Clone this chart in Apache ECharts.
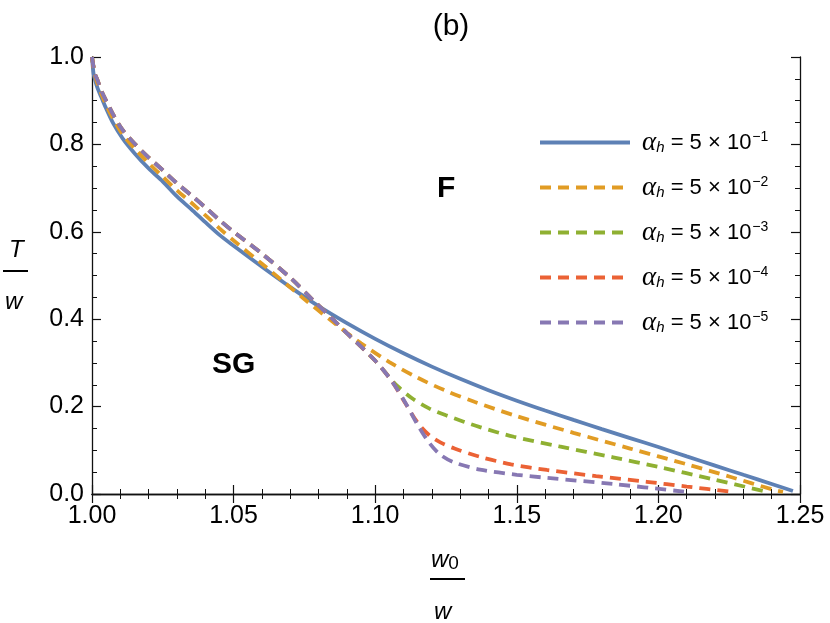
<!DOCTYPE html>
<html>
<head>
<meta charset="utf-8">
<script src="https://cdn.jsdelivr.net/npm/echarts@6/dist/echarts.min.js"></script>
<style>
  html, body { margin: 0; padding: 0; background: #fff; }
  #chart { width: 830px; height: 623px; }
</style>
</head>
<body>
<div id="chart"></div>
<script>
// values (x = w0/w, y = T/w)
var xBlue = [1.000, 1.0005, 1.001, 1.002, 1.0035, 1.005, 1.0075, 1.0108, 1.015, 1.02, 1.025, 1.03, 1.035, 1.04, 1.045, 1.05, 1.06, 1.07, 1.08, 1.09, 1.10, 1.11, 1.12, 1.13, 1.14, 1.15, 1.16, 1.17, 1.18, 1.19, 1.20, 1.21, 1.22, 1.23, 1.24, 1.2475];
var yBlue = [1.0, 0.964, 0.949, 0.928, 0.905, 0.882, 0.848, 0.814, 0.78, 0.745, 0.715, 0.681, 0.652, 0.622, 0.593, 0.568, 0.52, 0.4735, 0.43, 0.391, 0.355, 0.322, 0.2915, 0.2635, 0.2375, 0.2135, 0.191, 0.1695, 0.1485, 0.128, 0.1075, 0.086, 0.065, 0.044, 0.023, 0.007];

var xOrange = [1.000, 1.001, 1.002, 1.0035, 1.005, 1.0075, 1.0108, 1.015, 1.02, 1.025, 1.03, 1.035, 1.04, 1.045, 1.05, 1.06, 1.0746, 1.085, 1.095, 1.105, 1.115, 1.125, 1.135, 1.15, 1.17, 1.19, 1.21, 1.225, 1.2405, 1.244];
var yOrange = [1.0, 0.959, 0.938, 0.9125, 0.89, 0.858, 0.823, 0.791, 0.757, 0.726, 0.695, 0.667, 0.638, 0.608, 0.58, 0.527, 0.448, 0.394, 0.345, 0.302, 0.266, 0.236, 0.211, 0.178, 0.14, 0.104, 0.068, 0.04, 0.01, 0.005];

var xGreen = [1.000, 1.001, 1.002, 1.0035, 1.005, 1.0075, 1.0108, 1.015, 1.02, 1.025, 1.03, 1.035, 1.04, 1.045, 1.05, 1.06, 1.07, 1.078, 1.085, 1.09, 1.10, 1.105, 1.108, 1.113, 1.119, 1.125, 1.137, 1.149, 1.165, 1.184, 1.20, 1.219, 1.2376];
var yGreen = [1.0, 0.962, 0.946, 0.92, 0.9, 0.868, 0.833, 0.802, 0.77, 0.741, 0.711, 0.684, 0.656, 0.627, 0.6, 0.55, 0.495, 0.444, 0.4, 0.368, 0.305, 0.267, 0.246, 0.219, 0.196, 0.18, 0.153, 0.131, 0.109, 0.084, 0.062, 0.034, 0.006];

var xRed = [1.000, 1.001, 1.002, 1.0035, 1.005, 1.0075, 1.0108, 1.015, 1.02, 1.025, 1.03, 1.035, 1.04, 1.045, 1.05, 1.06, 1.07, 1.078, 1.085, 1.09, 1.10, 1.106, 1.111, 1.115, 1.119, 1.123, 1.128, 1.137, 1.148, 1.1606, 1.178, 1.1959, 1.21, 1.2263];
var yRed = [1.0, 0.962, 0.946, 0.92, 0.9, 0.868, 0.833, 0.802, 0.77, 0.741, 0.711, 0.684, 0.656, 0.627, 0.6, 0.55, 0.495, 0.444, 0.4, 0.368, 0.305, 0.257, 0.204, 0.163, 0.135, 0.118, 0.104, 0.085, 0.068, 0.055, 0.041, 0.028, 0.017, 0.005];

var xPurple = [1.000, 1.001, 1.002, 1.0035, 1.005, 1.0075, 1.0108, 1.015, 1.02, 1.025, 1.03, 1.035, 1.04, 1.045, 1.05, 1.06, 1.07, 1.078, 1.085, 1.09, 1.10, 1.106, 1.111, 1.115, 1.119, 1.123, 1.128, 1.137, 1.15, 1.1606, 1.184, 1.2094];
var yPurple = [1.0, 0.962, 0.946, 0.92, 0.9, 0.868, 0.833, 0.802, 0.77, 0.741, 0.711, 0.684, 0.656, 0.627, 0.6, 0.55, 0.495, 0.444, 0.4, 0.368, 0.305, 0.257, 0.205, 0.158, 0.118, 0.09, 0.072, 0.056, 0.044, 0.037, 0.023, 0.005];

var exponents = ['1', '2', '3', '4', '5'];
var colors = ['#5E81B5', '#E19C24', '#8FB032', '#EB6235', '#8778B3'];
var xTicks = [1.00, 1.05, 1.10, 1.15, 1.20, 1.25];
var yTicks = [0.0, 0.2, 0.4, 0.6, 0.8, 1.0];

var FONT = 'Liberation Sans';

function pairs(xs, ys) {
	var out = [];
	for (var i = 0; i < xs.length; i++) out.push([xs[i], ys[i]]);
	return out;
}

var curves = [
	pairs(xBlue, yBlue),
	pairs(xOrange, yOrange),
	pairs(xGreen, yGreen),
	pairs(xRed, yRed),
	pairs(xPurple, yPurple)
];

var myChart = echarts.init(document.getElementById('chart'));

var series = curves.map(function (d, i) {
	return {
		name: 'a' + exponents[i],
		type: 'line',
		data: d,
		showSymbol: false,
		symbol: 'none',
		smooth: 0.3,
		animation: false,
		lineStyle: {
			color: colors[i],
			width: 3.8,
			type: i === 0 ? 'solid' : [11, 7]
		},
		itemStyle: { color: colors[i] }
	};
});

function axisBase(extra) {
	var a = {
		type: 'value',
		axisLine: { show: true, lineStyle: { color: '#111', width: 1.3 } },
		axisTick: { show: true, inside: true, length: 9, lineStyle: { color: '#111', width: 1.2 } },
		splitLine: { show: false }
	};
	for (var k in extra) a[k] = extra[k];
	return a;
}

var option = {
	backgroundColor: '#fff',
	title: {
		text: '(b)',
		left: 446,
		textAlign: 'center',
		top: 7,
		textStyle: { fontFamily: FONT, fontSize: 30, fontWeight: 'normal', color: '#000' }
	},
	grid: { left: 92, right: 30, top: 57, bottom: 129, containLabel: false },
	legend: {
		orient: 'vertical',
		left: 533,
		top: 124,
		itemWidth: 90,
		itemHeight: 14,
		itemGap: 18,
		itemStyle: { opacity: 0 },
		lineStyle: { width: 4 },
		data: series.map(function (s) { return s.name; }),
		formatter: function (name) {
			return '{a|α}{s|h}{n| = 5 × 10}{p|−' + name.slice(1) + '}';
		},
		textStyle: {
			color: '#000',
			rich: {
				a: { fontFamily: 'Liberation Serif', fontStyle: 'italic', fontSize: 27, color: '#000', lineHeight: 26, padding: [0, 0, 0, 7] },
				s: { fontFamily: FONT, fontStyle: 'italic', fontSize: 15, color: '#000', lineHeight: 26, padding: [10, 0, 0, 0] },
				n: { fontFamily: FONT, fontSize: 22, color: '#000', lineHeight: 26 },
				p: { fontFamily: FONT, fontSize: 14, color: '#000', lineHeight: 26, padding: [0, 0, 10, 1] }
			}
		}
	},
	xAxis: [
		axisBase({
			min: xTicks[0], max: xTicks[xTicks.length - 1], interval: 0.05, position: 'bottom',
			minorTick: { show: true, splitNumber: 5, length: 5, lineStyle: { color: '#111', width: 1 } },
			axisLabel: { fontFamily: FONT, fontSize: 25, color: '#000', margin: 10,
				formatter: function (v) { return v.toFixed(2); } }
		}),
		axisBase({
			min: xTicks[0], max: xTicks[xTicks.length - 1], interval: 0.05, position: 'top',
			minorTick: { show: true, splitNumber: 5, length: 5, lineStyle: { color: '#111', width: 1 } },
			axisLabel: { show: false }
		})
	],
	yAxis: [
		axisBase({
			min: yTicks[0], max: yTicks[yTicks.length - 1], interval: 0.2, position: 'left',
			minorTick: { show: true, splitNumber: 4, length: 5, lineStyle: { color: '#111', width: 1 } },
			axisLabel: { fontFamily: FONT, fontSize: 25, color: '#000', margin: 8,
				formatter: function (v) { return v.toFixed(1); } }
		}),
		axisBase({
			min: yTicks[0], max: yTicks[yTicks.length - 1], interval: 0.2, position: 'right',
			minorTick: { show: true, splitNumber: 4, length: 5, lineStyle: { color: '#111', width: 1 } },
			axisLabel: { show: false }
		})
	],
	graphic: [
		// y axis title T / w
		{ type: 'text', left: 9, top: 238, style: { text: 'T', fontFamily: FONT, fontStyle: 'italic', fontSize: 24, fill: '#000' } },
		{ type: 'line', shape: { x1: 3, y1: 271, x2: 28, y2: 271 }, style: { stroke: '#000', lineWidth: 2 } },
		{ type: 'text', left: 5, top: 290, style: { text: 'w', fontFamily: FONT, fontStyle: 'italic', fontSize: 24, fill: '#000' } },
		// x axis title w0 / w
		{ type: 'text', left: 431, top: 548, style: {
			text: '{w|w}{z|0}', fontFamily: FONT, fontSize: 24, fill: '#000',
			rich: {
				w: { fontFamily: FONT, fontStyle: 'italic', fontSize: 24, fill: '#000', lineHeight: 28 },
				z: { fontFamily: FONT, fontSize: 19, fill: '#000', lineHeight: 28, padding: [6, 0, 0, 0] }
			}
		} },
		{ type: 'line', shape: { x1: 430, y1: 579, x2: 465, y2: 579 }, style: { stroke: '#000', lineWidth: 2 } },
		{ type: 'text', left: 434, top: 600, style: { text: 'w', fontFamily: FONT, fontStyle: 'italic', fontSize: 24, fill: '#000' } },
		// region labels
		{ type: 'text', left: 212, top: 350, style: { text: 'SG', fontFamily: FONT, fontWeight: 'bold', fontSize: 30, fill: '#000' } },
		{ type: 'text', left: 437, top: 174, style: { text: 'F', fontFamily: FONT, fontWeight: 'bold', fontSize: 30, fill: '#000' } }
	],
	series: series
};

myChart.setOption(option);
window.addEventListener('resize', function () {
	myChart.resize();
});
</script>
</body>
</html>
